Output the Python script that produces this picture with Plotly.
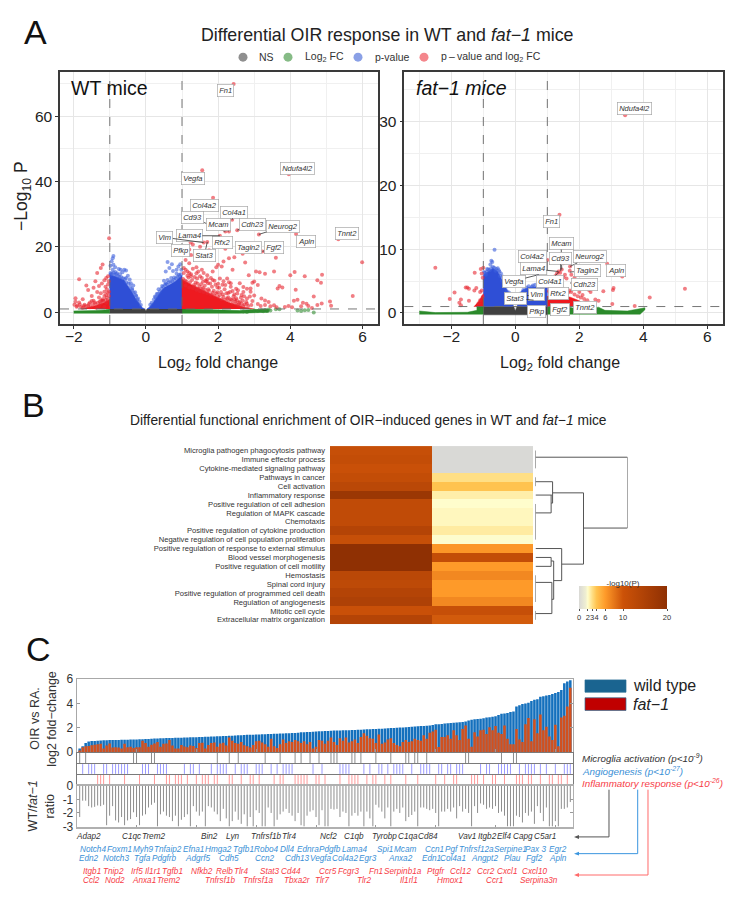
import plotly.graph_objects as go

W, H = 733, 902
FONT = "Liberation Sans"

# ---------- Panel A: volcano plots ----------
genes_wt = ["Fn1", "Ndufa4l2", "Vegfa", "Col4a2", "Col4a1", "Cd93", "Mcam", "Cdh23", "Neurog2",
            "Apln", "Tnnt2", "Tagln2", "Fgf2", "Rfx2", "Lama4", "Vim", "Pfkp", "Stat3"]
wt_gene_x = [2.43, 3.96, 1.56, 1.86, 2.39, 2.2, 2.3, 2.53, 3.13, 4.16, 5.33, 2.68, 3.23, 2.2, 2.05, 1.6, 1.24, 1.7]
wt_gene_y = [69.8, 42.2, 43.4, 35.0, 28.3, 24.7, 24.7, 25.1, 23.8, 23.9, 22.3, 17.9, 18.6, 19.4, 23.4, 21.3, 21.3, 21.5]
wt_label_x = [2.2, 4.2, 1.3, 1.62, 2.44, 1.3, 2.0, 2.95, 3.8, 4.43, 5.56, 2.84, 3.54, 2.12, 1.2, 0.52, 0.97, 1.62]
wt_label_y = [67.7, 44.0, 41.0, 32.8, 30.6, 28.9, 26.7, 26.8, 26.2, 21.5, 24.2, 19.8, 19.8, 21.2, 23.4, 22.9, 19.0, 17.4]
wt_label_line = [0, 0, 0, 0, 1, 1, 1, 1, 1, 0, 0, 0, 1, 0, 1, 1, 0, 1]

genes_fat = ["Ndufa4l2", "Fn1", "Mcam", "Col4a2", "Cd93", "Neurog2", "Lama4", "Tagln2", "Apln",
             "Vegfa", "Col4a1", "Cdh23", "Rfx2", "Vim", "Stat3", "Fgf2", "Tnnt2", "Pfkp"]
fat_gene_x = [3.43, 1.38, 1.45, 1.0, 1.42, 1.71, 1.35, 1.71, 3.34, 0.73, 1.35, 1.71, 1.04, 0.36, 0.57, 1.14, 1.87, 0.36]
fat_gene_y = [31.0, 15.4, 6.8, 8.3, 6.6, 7.3, 6.5, 6.4, 5.7, 6.0, 6.4, 4.7, 3.2, 2.7, 2.0, 1.9, 0.6, 0.6]
fat_label_x = [3.73, 1.14, 1.43, 0.54, 1.41, 2.34, 0.56, 2.24, 3.14, -0.05, 1.08, 2.15, 1.35, 0.67, 0.0, 1.4, 2.19, 0.65]
fat_label_y = [32.0, 14.3, 10.9, 8.9, 8.6, 8.8, 6.9, 6.7, 6.6, 5.0, 4.9, 4.5, 3.0, 2.9, 2.3, 0.55, 0.85, 0.25]
fat_label_line = [0, 0, 1, 1, 1, 1, 1, 1, 0, 1, 1, 1, 1, 1, 1, 0, 0, 0]

# Dense cores of each significance class, as outlines in (log2FC, -log10 P)
wt_ns_x = [-1, 1, 1, 0.03, 0, -0.03, -1]
wt_ns_y = [-0.3, -0.3, 1, 1, 0.4, 1, 1]
wt_blue_neg_x = [-1, -1, -0.85, -0.7, -0.6, -0.5, -0.4, -0.3, -0.2, -0.1, -0.03]
wt_blue_neg_y = [1, 11.5, 11, 10.2, 9.8, 8, 6.5, 4.5, 2.8, 1.4, 1]
wt_blue_pos_x = [0.03, 0.1, 0.2, 0.3, 0.4, 0.5, 0.6, 0.7, 0.8, 0.9, 1, 1]
wt_blue_pos_y = [1, 1.6, 3, 4.8, 6.3, 7.5, 8, 8.7, 9.3, 10.2, 11.3, 1]
wt_red_core_x = [1, 1, 1.25, 1.55, 1.9, 2.3, 2.7, 3.0]
wt_red_core_y = [1, 10, 8.5, 6.8, 5, 3, 1.6, 1]
wt_red_core2_x = [-1, -1, -1.15, -1.4, -1.8]
wt_red_core2_y = [1, 4, 3, 2, 1]
wt_green1_x = [-2, -1, -1, -1.15, -1.4, -2]
wt_green1_y = [-0.3, -0.3, 1, 0.7, 0.5, 0.4]
wt_green2_x = [1, 2.6, 3.4, 3.4, 3, 2.6, 1.5, 1]
wt_green2_y = [-0.3, -0.3, 0, 0.9, 0.8, 0.5, 0.9, 1]

wt_green_x = [2.7, 2.8, 2.9, 3.0, 3.1, 3.2, 3.3, 3.4, 3.45, 3.6, 3.7, 4.2, 4.3, 4.4, 4.65, 4.5, 3.35, 3.25]
wt_green_y = [0.2, 0.1, 0.4, 0.5, 0.4, 0.6, 0.7, 0.8, 0.5, 0.9, 0.9, 0.5, 0.4, 0.6, -0.1, 0.7, 0.4, 0.3]

wt_blue_x = [-0.9, -0.92, -0.95, -0.98, -0.9, -0.85, -0.75, -0.7, -0.6, -0.55, -0.92, -0.85, -0.65, -0.8, -0.5,
             -0.55, -0.42, -0.35, -0.38, -0.3, -0.27, -0.22, -0.72, -0.98, -0.45,
             0.6, 0.72, 0.95, 0.9, 0.85, 0.65, 0.98, 0.55, 0.75, 0.85, 0.92, 0.5, 0.55, 0.45, 0.35, 0.3, 0.25, 0.7, 0.6, 0.78,
             -0.98, -0.95, -0.9, -0.88, -0.82, -0.78, -0.74, -0.68, -0.64, -0.58, -0.54, -0.48, -0.44, -0.38, -0.34, -0.28, -0.24, -0.18, -0.14,
             0.12, 0.16, 0.22, 0.27, 0.33, 0.38, 0.43, 0.48, 0.53, 0.58, 0.63, 0.68, 0.73, 0.78, 0.83, 0.88, 0.93, 0.97]
wt_blue_y = [17.2, 16.5, 15.6, 14.2, 14.5, 13.8, 13.2, 13, 13, 12.8, 13, 12.3, 12.2, 11.9, 11.2,
             10.5, 8.9, 8.2, 7.2, 6.1, 5, 4.2, 11.6, 11.5, 10,
             15.4, 14.7, 14.7, 14, 13, 13.5, 13, 12.5, 12.6, 11.8, 11.5, 9.6, 8.8, 8, 7, 5.6, 4.8, 10.5, 9.9, 10.6,
             12, 11.8, 12.1, 11.4, 11.6, 11, 10.8, 10.7, 10.4, 10.2, 9.2, 8.8, 7.8, 6.8, 6, 5.2, 3.9, 3.2, 2.2,
             2.3, 2.9, 3.9, 4.6, 5.6, 6.3, 7.2, 7.8, 8.4, 8.6, 9.1, 9.3, 9.5, 9.9, 10.4, 10.8, 11, 11.6]

wt_red_x = [1.05, 1.1, 1.15, 1.05, 1.2, 1.3, 1.4, 1.45, 1.55, 1.6, 1.25, 1.35, 1.5, 1.7, 1.85, 1.95, 1.2, 1.1, 1.25, 1.35,
            1.5, 1.6, 1.75, 1.15, 1.2, 1.3, 1.5, 1.75, 2.0, 2.15, 2.3, 2.45, 2.1, 2.4, 2.75, 3.05, 3.15, 3.3, 3.55, 3.6,
            3.7, 3.78, 3.65, 4.0, 4.12, 4.4, 4.75, 4.88, 4.85, 4.15, 4.65, 5.73, 5.99, 5.1, 5.13, 4.87, 4.75, 4.45, 4.35, 4.2,
            4.1, 3.85, 3.95, 4.05, 4.3, 4.5, 4.6, 3.4, 3.3, 3.2, 3.0, 2.9, 2.8, 3.1, 3.0, 2.85, 2.95, 2.6, 2.7, 2.55,
            2.65, 2.8, 2.95, 3.1, 3.3, 3.45, 3.55, 2.8, 2.6, 2.5, 2.45, 2.4, 2.35, 2.3, 2.25, 2.15, 2.05, 1.9, 1.8, 1.65,
            2.12, 1.98, 1.72, 1.58, 1.42, 2.28, 2.52, 2.72, 2.92, 3.18, 3.62,
            1.03, 1.08, 1.12, 1.18, 1.22, 1.28, 1.33, 1.38, 1.43, 1.48, 1.53, 1.58, 1.63, 1.68, 1.73, 1.78, 1.83, 1.88, 1.93, 1.98,
            2.03, 2.08, 2.13, 2.18, 2.23, 2.28, 2.33, 2.38, 2.43, 2.48, 2.53, 2.58, 2.63, 2.68, 2.73, 2.78, 2.83, 2.88,
            1.1, 1.2, 1.3, 1.4, 1.5, 1.6, 1.7, 1.8, 1.9, 2.0, 2.1, 2.2, 2.3, 2.4, 2.5, 2.6, 2.7,
            1.35, 1.45, 1.55, 1.65, 1.75, 1.85, 1.95, 2.05, 2.15, 2.25, 2.35, 2.45, 2.55, 2.65,
            1.15, 1.25, 1.4, 1.55, 1.7, 1.85, 2.0, 2.2, 2.35, 2.5, 2.7, 2.9,
            -1.02, -1.2, -1.25, -1.05, -1.1, -1.15, -1.22, -1.3, -1.05, -1.08, -1.15, -1.25, -1.35, -1.1, -1.3, -1.45, -1.5,
            -1.55, -1.6, -1.45, -1.4, -1.7, -1.75, -1.8, -1.85, -1.85, -1.9, -1.95, -1.95, -1.98, -1.92, -1.65, -1.4, -1.35,
            -1.5, -1.25, -1.2, -1.6, -1.3, -1.15, -1.1, -1.75, -1.55, -1.38, -1.2, -1.05, -1.15, -1.28,
            -1.02, -1.08, -1.12, -1.18, -1.24, -1.33, -1.42, -1.48, -1.58, -1.66, -1.72, -1.83, -1.02, -1.03, -1.06, -1.12]
wt_red_y = [13.5, 13, 12.5, 12, 12, 13.3, 13.8, 12.5, 13, 12, 11, 10.8, 11, 11.3, 12.5, 13.8, 15, 16, 17.5, 17.2,
            16.5, 16.2, 16.3, 17.8, 19.2, 20.7, 20, 19, 14.5, 15.5, 16.5, 16.8, 14, 13, 15.2, 12.5, 12.2, 11.8, 12.5, 16.7,
            8, 7.6, 7.3, 11.3, 12.3, 11, 9.8, 11.5, 9, 6.9, 4.8, 5, 15.3, 3.3, 2, 2.7, 2.2, 2.6, 2.9, 3.8,
            3.5, 1.6, 1.9, 1.5, 1.8, 1.9, 1.3, 3.1, 3.6, 4.2, 5.1, 6.3, 7.2, 8.3, 9.4, 11.3, 9, 8.9, 7.7, 6.7,
            5.3, 4.2, 3.4, 2.5, 2.2, 1.8, 2.1, 2.6, 3.1, 4.3, 5.4, 6.5, 7.8, 9.2, 10.3, 9.5, 10.3, 9.6, 10.5, 9.6,
            8.4, 7.6, 8.9, 9.3, 10.3, 5.9, 3.7, 4.9, 2.2, 1.9, 1.5,
            10.2, 9.7, 9.4, 10.6, 9.2, 9.9, 8.3, 9.1, 8.8, 7.9, 8.6, 7.4, 8.1, 9.4, 7.0, 8.8, 7.8, 6.6, 8.4, 6.1,
            7.5, 6.2, 5.4, 7.0, 5.8, 4.6, 6.2, 3.8, 4.9, 3.3, 5.7, 2.9, 4.4, 3.6, 2.4, 3.1, 1.9, 4.8,
            8.2, 7.6, 7.4, 6.9, 6.4, 6.2, 5.9, 5.4, 5.1, 4.7, 4.0, 3.8, 3.5, 2.8, 2.5, 2.0, 1.8,
            7.9, 7.2, 7.1, 6.9, 6.6, 6.0, 5.7, 5.3, 4.7, 4.2, 4.0, 3.9, 2.2, 2.6,
            11.2, 11.6, 11.9, 10.5, 10.1, 9.9, 8.7, 8.3, 8.9, 7.2, 6.2, 7.3,
            22.6, 14.6, 13.5, 11, 10.5, 9.8, 8.8, 8, 8.5, 7, 6.3, 5.8, 6.2, 5.3, 4.5, 3.5, 5,
            3, 6.8, 7.5, 2.5, 2.3, 4, 1.6, 10.1, 3, 2, 4.3, 3.2, 2.3, 1.7, 8.2, 9.5, 12,
            3.4, 2.7, 4, 2, 1.9, 1.7, 2.9, 1.4, 1.5, 1.4, 3.5, 3.7, 5, 3.2,
            5, 4.4, 3.8, 3.5, 3.6, 2.9, 3, 2.2, 2.5, 1.8, 1.9, 2.4, 6.3, 9.5, 6.0, 7.8]

fat_ns_x = [-1, 1, 1, 0.05, 0, -0.05, -1]
fat_ns_y = [-0.3, -0.3, 1, 1, 0.3, 1, 1]
fat_blue_neg_x = [-1, -1, -0.85, -0.7, -0.55, -0.45, -0.35, -0.25, -0.15, -0.08, -0.05]
fat_blue_neg_y = [1, 6, 6.5, 7, 6.5, 5.5, 4.5, 3.5, 2.2, 1.2, 1]
fat_blue_pos_x = [0.05, 0.1, 0.2, 0.4, 0.7, 1, 1]
fat_blue_pos_y = [1, 1.8, 3.5, 4, 4.2, 4.3, 1]
fat_red_core_x = [1, 1, 1.3, 1.7, 2, 2.25]
fat_red_core_y = [1, 2.6, 2.7, 2.5, 1.9, 1]
fat_red_core2_x = [-1.3, -1, -1, -1.15]
fat_red_core2_y = [1, 1, 3, 1.8]
fat_green1_x = [-3, -2.5, -1.5, -1.2, -1.2, -1, -1, -3]
fat_green1_y = [0.3, 0.05, 0.1, 0.4, 1, 1, -0.2, -0.2]
fat_green2_x = [1, 3.9, 4.05, 4.05, 3.5, 2.8, 2.6, 2, 1.7, 1]
fat_green2_y = [-0.2, -0.2, 0.5, 0.8, 0.3, 0.4, 0.9, 0.5, 0.9, 1]

fat_blue_x = [-0.65, -0.75, -0.72, -0.78, -0.7, -0.85, -0.6, -0.5, -0.45, -0.4, -0.55, -0.95, -0.9, -0.3, -0.25, -0.2,
              0.7, 0.55, 0.45, 0.3, 0.85, 0.95, 0.75, 0.6,
              -0.98, -0.92, -0.88, -0.8, -0.76, -0.66, -0.62, -0.52, -0.48, -0.42, -0.37, -0.32, -0.27, -0.22, -0.17,
              0.12, 0.18, 0.25, 0.35, 0.42, 0.52, 0.62, 0.72, 0.82, 0.92, 0.98]
fat_blue_y = [9.9, 8.2, 8, 7.6, 7.2, 6.8, 6.9, 6.5, 6.2, 5.7, 7, 6.3, 6.4, 4.8, 4.2, 3.2,
              5.9, 4.3, 3.8, 3.5, 4.9, 5.2, 4.5, 3.7,
              6.4, 6, 6.9, 6.7, 7, 7.1, 6.6, 6.7, 5.8, 5.1, 4.8, 4.1, 3.4, 2.9, 2.3,
              2.1, 3.1, 3.6, 4, 4.2, 4.1, 4.4, 4.3, 4.6, 4.4, 4.6]
fat_red_x = [1.38, 1.0, 1.45, 1.5, 1.71, 1.35, 1.25, 1.3, 1.4, 1.55, 1.7, 1.75, 1.85, 1.9, 1.6, 1.5, 1.8, 1.05, 1.1, 1.2,
             1.4, 1.5, 1.7, 1.95, 2.1, 2.3, 2.35, 2.1, 2.0, 2.6, 2.5, 2.25, 2.45, 2.87, 3.34, 3.07, 3.05, 2.75, 3.03, 3.73,
             4.2, 5.3, 3.43,
             1.05, 1.15, 1.25, 1.35, 1.45, 1.55, 1.65, 1.75, 1.85, 1.95, 2.05, 2.15, 2.3, 2.2, 1.1, 1.3,
             -2.5, -2.05, -1.9, -1.75, -1.7, -1.7, -1.55, -1.5, -1.45, -1.45, -1.28, -1.27, -1.22, -1.15,
             -1.1, -1.05, -1.08, -1.0, -1.02, -1.05, -1.1, -1.02]
fat_red_y = [15.4, 8.3, 6.8, 7.8, 7.3, 6.5, 5.8, 6.2, 6.3, 6, 6.6, 6, 5.5, 5, 5.4, 5.6, 4.7, 4.1, 4, 4.2,
             4.1, 3.7, 3.5, 4.2, 4.3, 3.6, 3.3, 2.8, 3.3, 1.9, 2.1, 2, 1.3, 7.7, 5.7, 3.9, 3.6, 3.4, 1.4, 1.1,
             2.4, 3.8, 31,
             3.4, 3.7, 3.8, 3.5, 3.4, 3.3, 3.2, 3.3, 2.9, 2.6, 2.4, 2.2, 1.5, 1.6, 3.1, 2.9,
             7.1, 2.2, 3.2, 1.6, 1.2, 2.1, 4, 4, 3.8, 1.9, 3.5, 6.3, 3.9, 1.5,
             2, 6.2, 6.9, 7.1, 5.5, 3.5, 3.3, 2.5]

# ---------- Panel B: enrichment heatmap ----------
pathways = ["Microglia pathogen phagocytosis pathway", "Immune effector process",
            "Cytokine-mediated signaling pathway", "Pathways in cancer", "Cell activation",
            "Inflammatory response", "Positive regulation of cell adhesion", "Regulation of MAPK cascade",
            "Chemotaxis", "Positive regulation of cytokine production",
            "Negative regulation of cell population proliferation",
            "Positive regulation of response to external stimulus", "Blood vessel morphogenesis",
            "Positive regulation of cell motility", "Hemostasis", "Spinal cord injury",
            "Positive regulation of programmed cell death", "Regulation of angiogenesis",
            "Mitotic cell cycle", "Extracellular matrix organization"]
logp_wt = [11, 11.5, 10.5, 11.5, 13, 18, 12, 12, 12, 14, 11, 20, 20, 20, 13, 12.5, 14, 15, 10.5, 14]
logp_fat = [0, 0, 0, 3.0, 4.0, 2.5, 2.0, 2.2, 2.2, 2.6, 1.95, 6.2, 11.5, 6, 7, 6, 6, 7, 11, 9.5]
heat_columns = ["WT", "fat-1"]
colorbar_ticks = [0, 2, 3, 4, 6, 10, 20]

# Dendrogram segments: merge height against row index, None breaks a segment
dendro_height = [0, 0, None, 0, 253, None, 253, 253, None, 253, 132, None, 132, 132, None, 132, 47, None,
                 47, 47, None, 47, 0, None, 0, 0, None, 0, 45, None, 0, 43, None, 43, 43, None, 43, 47, None,
                 0, 0, None, 132, 72, None, 72, 72, None, 72, 0, None, 72, 50, None, 50, 50, None,
                 50, 43, None, 43, 43, None, 43, 0, None, 43, 0, None, 50, 45, None, 45, 45, None,
                 45, 0, None, 45, 0, None, 0, 0, None, 0, 0]
dendro_row = [0, 2, None, 0.75, 0.75, None, 0.75, 8.7, None, 8.7, 8.7, None, 4.75, 12.75, None, 4.75, 4.75, None,
              3.5, 5.9, None, 3.5, 3.5, None, 3, 4, None, 5, 5, None, 7, 7, None, 5, 7, None, 5.9, 5.9, None,
              6, 10, None, 12.75, 12.75, None, 11, 14.6, None, 11, 11, None, 14.6, 14.6, None, 12.4, 16.7, None,
              12.4, 12.4, None, 12, 13, None, 12, 12, None, 13, 13, None, 16.7, 16.7, None, 14.8, 18.3, None,
              14.8, 14.8, None, 18.3, 18.3, None, 14, 17, None, 18, 19]

# ---------- Panel C: ranked fold changes ----------
fc_wild = [.3, .5, .75, .88, .92, .93, .95, .97, .98, .98,
           1.0, 1.0, 1.0, 1.01, 1.02, 1.03, 1.03, 1.04, 1.05, 1.05,
           1.06, 1.07, 1.08, 1.09, 1.10, 1.12, 1.13, 1.14, 1.15, 1.16,
           1.16, 1.17, 1.18, 1.18, 1.19, 1.2, 1.21, 1.22, 1.23, 1.24,
           1.25, 1.26, 1.27, 1.28, 1.29, 1.3, 1.31, 1.32, 1.33, 1.34,
           1.35, 1.36, 1.38, 1.39, 1.40, 1.42, 1.43, 1.44, 1.44, 1.45,
           1.46, 1.47, 1.48, 1.50, 1.50, 1.51, 1.52, 1.53, 1.54, 1.55,
           1.56, 1.57, 1.58, 1.60, 1.65, 1.65, 1.66, 1.67, 1.68, 1.70,
           1.72, 1.73, 1.74, 1.75, 1.76, 1.78, 1.78, 1.79, 1.80, 1.80,
           1.81, 1.82, 1.83, 1.84, 1.85, 1.86, 1.88, 1.89, 1.90, 1.91,
           1.92, 1.93, 1.95, 1.96, 1.98, 1.99, 2.0, 2.02, 2.03, 2.05,
           2.08, 2.10, 2.12, 2.13, 2.15, 2.16, 2.18, 2.20, 2.24, 2.30,
           2.30, 2.32, 2.35, 2.38, 2.40, 2.42, 2.44, 2.46, 2.48, 2.52,
           2.60, 2.66, 2.70, 2.72, 2.75, 2.78, 2.85, 2.88, 2.92, 2.96,
           3.05, 3.15, 3.18, 3.22, 3.30, 3.35, 3.75, 3.85, 3.95, 4.0,
           4.05, 4.2, 4.3, 4.35, 4.55, 4.6, 4.65, 4.7, 4.78, 4.85,
           4.95, 5.1, 5.65, 5.8, 5.9]
fc_fat = [.15, .42, .50, .52, .58, .62, .65, .70, .30, .55,
          .72, .38, .42, .38, .30, .70, .40, .45, .35, .42,
          .42, .95, .75, .45, .62, .72, .85, .45, .70, .72,
          1.0, .55, .30, .30, .60, .48, .42, .55, .52, .35,
          .75, .78, .30, .60, .75, .80, .45, .72, .78, .55,
          1.2, .95, .75, .70, .85, .58, .50, .38, .60, .90,
          .95, .80, .65, .45, 1.1, .50, .35, .65, 1.05, .75,
          .90, .85, 1.0, .90, .75, .90, .65, .85, .30, .45,
          1.0, .95, .70, .95, 1.2, .85, .60, 1.15, .95, 1.2,
          .80, .90, 1.05, .75, 1.25, 1.55, 1.35, 1.15, 1.1, .75,
          1.45, .70, .80, 1.05, 1.15, .75, .6, .5, .85, 1.0,
          .85, .9, 1.1, 1.0, .95, 1.4, 1.1, 1.6, 1.7, 1.85,
          .43, 1.25, 1.25, 1.4, 1.1, 1.8, 1.4, 1.0, 1.9, 2.2,
          1.1, .45, 1.65, 1.3, 1.8, 1.85, 1.5, 2.05, 1.8, 2.15,
          1.6, 1.5, 2.2, 1.1, .65, .65, 1.9, 1.05, .85, 2.3,
          2.8, .9, 2.7, 1.55, 3.1, 1.8, 2.1, 1.3, 1.0, 2.25,
          .5, 2.85, 3.0, 3.75, 5.3]
ratio = [-2.3, -1.1, -1.1, -1.5, -1.6, -1.55, -1.45, -1.5, -1.4, -2.9, -2.2, -1.5, -2.55, -2.7, -2.3, -2.9, -2.55, -2.45, -1.95, -2.3,
         -2.9, -2.2, -2.1, -1.6, -1.4, -1.25, -3, -2.1, -1.9, -2.2, -2.3, -2.6, -2.2, -3, -2.5, -2.3, -2.1, -3, -1.5, -1.9,
         -2.2, -1.9, -3, -1.5, -1.6, -1.9, -2.1, -2.6, -1.7, -2.4, -3, -2.6, -1.9, -2.5, -2.8, -2.1, -3, -2.3, -3, -1.8,
         -2, -3, -3, -1.6, -2, -3, -2.5, -2.1, -1.9, -1.7, -2.0, -2.2, -2.6, -2.0, -2.9, -3, -2.2, -1.9, -1.8, -2.3,
         -2.9, -1.8, -3, -3, -1.7, -1.75, -1.7, -2.3, -1.9, -2.0, -3, -2.2, -2, -2.2, -1.9, -3, -1.9, -2.4, -3, -1.4,
         -1.6, -1.9, -2.4, -1.6, -3, -1.9, -1.7, -2, -1.6,
         -2.6, -2.3, -2.15, -1.9, -3, -1.6, -1.6, -1.7, -1.8, -1.7, -2, -3, -1.9, -1.9, -1.7, -1.9, -1.6, -2.4, -1.5, -1.9,
         -1.7, -2, -3, -1.5, -2, -1.3, -1.4, -1.7, -1.6, -1.7, -1.5, -2, -1.9, -2.2, -3, -3, -3, -2.2, -2.3, -2.7,
         -2, -2.2, -1.9, -2.8, -1.5, -2, -2.6, -1.6, -3, -3, -2.6, -3, -1.7, -1.7, -1.6, -1.2]
rank = list(range(1, len(fc_wild) + 1))
rank_ticks = [20, 40, 60, 80, 100, 120, 140, 160]

microglia_ranks = [1, 3, 19, 20, 25, 26, 47, 51, 54, 63, 68, 73, 75, 78, 81, 85, 86, 87, 92, 93, 95, 100, 105,
                   110, 111, 113, 114, 117, 130, 131, 142, 146, 147]
angiogenesis_ranks = [2, 4, 5, 6, 9, 10, 12, 13, 14, 15, 16, 17, 22, 23, 24, 27, 28, 29, 30, 36, 38, 39, 41, 45, 47, 48,
                      49, 50, 53, 55, 56, 57, 60, 61, 62, 65, 67, 69, 70, 71, 72, 79, 82, 88, 89, 90, 91, 96, 98, 101,
                      102, 104, 106, 107, 108, 109, 112, 115, 116, 117, 118, 121, 122, 124, 125, 127, 128, 129, 135,
                      137, 138, 141, 142, 143, 144, 145, 148, 150, 151, 152, 153, 155, 157, 160, 163, 164, 165]
inflammatory_ranks = [7, 8, 9, 11, 16, 21, 26, 30, 31, 33, 34, 35, 37, 40, 42, 43, 44, 46, 47, 51, 52, 55, 58, 59, 61,
                      66, 68, 69, 73, 74, 75, 76, 77, 80, 81, 83, 88, 91, 92, 93, 94, 97, 99, 100, 103, 105, 110, 114,
                      120, 123, 126, 127, 132, 133, 134, 136, 139, 140, 143, 147, 148, 149, 151, 152, 155, 158, 159,
                      161, 162, 164]

microglia_genes = ["Adap2", "C1qc", "Trem2", "Bin2", "Lyn", "Tnfrsf1b", "Tlr4", "Ncf2", "C1qb", "Tyrobp", "C1qa",
                   "Cd84", "Vav1", "Itgb2", "Elf4", "Capg", "C5ar1"]
angio_genes_1 = ["Notch4", "Foxm1", "Myh9", "Tnfaip2", "Efna1", "Hmga2", "Tgfb1", "Robo4", "Dll4", "Ednra", "Pdgfb",
                 "Lama4", "Spi1", "Mcam", "Ccn1", "Pgf", "Tnfrsf12a", "Serpine1", "Pax 3", "Egr2"]
angio_genes_2 = ["Edn2", "Notch3", "Tgfa", "Pdgfrb", "Adgrf5", "Cdh5", "Ccn2", "Cdh13", "Vegfa", "Col4a2", "Egr3",
                 "Anxa2", "Edn1", "Col4a1", "Angpt2", "Plau", "Fgf2", "Apln"]
inflam_genes_1 = ["Itgb1", "Tnip2", "Irf5", "Il1r1", "Tgfb1", "Nfkb2", "Relb", "Tlr4", "Stat3", "Cd44", "Ccr5", "Fcgr3",
                  "Fn1", "Serpinb1a", "Ptgfr", "Ccl12", "Ccr2", "Cxcl1", "Cxcl10"]
inflam_genes_2 = ["Ccl2", "Nod2", "Anxa1", "Trem2", "Tnfrsf1b", "Tnfrsf1a", "Tbxa2r", "Tlr7", "Tlr2", "Il1rl1", "Hmox1",
                  "Ccr1", "Serpina3n"]


def px(x):
    return x / W


def py(y):
    return 1 - y / H


def dom_x(a, b):
    return [px(a), px(b)]


def dom_y(top, bottom):
    return [py(bottom), py(top)]


fig = go.Figure()
annotations = []
shapes = []


def note(x, y, text, size=10, color="#222222", anchor="center", angle=0):
    annotations.append(dict(x=px(x), y=py(y), xref="paper", yref="paper", text=text, showarrow=False,
                            xanchor=anchor, yanchor="middle", textangle=angle,
                            font=dict(family=FONT, size=size, color=color)))


def area(x, y, color, xa, ya):
    fig.add_trace(go.Scatter(x=x, y=y, mode="lines", fill="toself", fillcolor=color, xaxis=xa, yaxis=ya,
                             line=dict(width=0.5, color=color), showlegend=False, hoverinfo="skip"))


def dots(x, y, color, xa, ya, size=4.0):
    fig.add_trace(go.Scatter(x=x, y=y, mode="markers", xaxis=xa, yaxis=ya, showlegend=False,
                             marker=dict(size=size, color=color, line=dict(width=0))))


def stems(x, values, color, xa, ya):
    # Thin vertical lines from zero to each value, one per ranked gene
    down = [max(-v, 0) for v in values]
    up = [max(v, 0) for v in values]
    fig.add_trace(go.Scatter(x=x, y=[0] * len(x), mode="markers", marker=dict(size=0.1, opacity=0),
                             error_y=dict(type="data", symmetric=False, array=up, arrayminus=down,
                                          color=color, thickness=1, width=0),
                             xaxis=xa, yaxis=ya, showlegend=False, hoverinfo="skip"))


C_NS, C_GREEN, C_BLUE, C_RED = "#404040", "#2b8a2b", "#2f4fd6", "#ee1a20"
DOT_GREEN, DOT_BLUE, DOT_RED = "rgba(50,140,50,0.6)", "rgba(60,95,220,0.6)", "rgba(232,40,50,0.6)"

# Left volcano
for xs, ys, c in [(wt_green1_x, wt_green1_y, C_GREEN), (wt_green2_x, wt_green2_y, C_GREEN), (wt_ns_x, wt_ns_y, C_NS),
                  (wt_blue_neg_x, wt_blue_neg_y, C_BLUE), (wt_blue_pos_x, wt_blue_pos_y, C_BLUE),
                  (wt_red_core_x, wt_red_core_y, C_RED), (wt_red_core2_x, wt_red_core2_y, C_RED)]:
    area(xs, ys, c, "x", "y")
dots(wt_green_x, wt_green_y, DOT_GREEN, "x", "y")
dots(wt_blue_x, wt_blue_y, DOT_BLUE, "x", "y")
dots(wt_red_x, wt_red_y, DOT_RED, "x", "y")
dots(wt_gene_x, wt_gene_y, DOT_RED, "x", "y")

# Right volcano
for xs, ys, c in [(fat_green1_x, fat_green1_y, C_GREEN), (fat_green2_x, fat_green2_y, C_GREEN),
                  (fat_ns_x, fat_ns_y, C_NS), (fat_blue_neg_x, fat_blue_neg_y, C_BLUE),
                  (fat_blue_pos_x, fat_blue_pos_y, C_BLUE), (fat_red_core_x, fat_red_core_y, C_RED),
                  (fat_red_core2_x, fat_red_core2_y, C_RED)]:
    area(xs, ys, c, "x2", "y2")
dots(fat_blue_x, fat_blue_y, DOT_BLUE, "x2", "y2")
dots(fat_red_x, fat_red_y, DOT_RED, "x2", "y2")


def gene_labels(names, gx, gy, lx, ly, line, xref, yref):
    for n, a, b, c, d, show in zip(names, gx, gy, lx, ly, line):
        base = dict(text="<i>%s</i>" % n, bgcolor="white", bordercolor="#a8a8a8", borderwidth=0.7, borderpad=1.5,
                    font=dict(family=FONT, size=7.5, color="#333333"), xref=xref, yref=yref)
        if show:
            annotations.append(dict(base, x=a, y=b, ax=c, ay=d, axref=xref, ayref=yref, showarrow=True,
                                    arrowhead=0, arrowwidth=0.8, arrowcolor="#333333", standoff=0))
        else:
            annotations.append(dict(base, x=c, y=d, showarrow=False))


gene_labels(genes_wt, wt_gene_x, wt_gene_y, wt_label_x, wt_label_y, wt_label_line, "x", "y")
gene_labels(genes_fat, fat_gene_x, fat_gene_y, fat_label_x, fat_label_y, fat_label_line, "x2", "y2")

for xa, ya in [("x", "y"), ("x2", "y2")]:
    for v in (-1, 1):
        shapes.append(dict(type="line", xref=xa, yref=ya + " domain", x0=v, x1=v, y0=0, y1=1,
                           line=dict(color="#666666", width=0.9, dash="dash")))
    shapes.append(dict(type="line", xref=xa + " domain", yref=ya, x0=0, x1=1, y0=1, y1=1,
                       line=dict(color="#666666", width=0.9, dash="dash")))

# Heatmap with its colour key
heat_scale = [[0, "#d9d9d6"], [0.075, "#efeed2"], [0.1, "#fffdcc"], [0.15, "#ffdf85"], [0.2, "#ffc34f"],
              [0.3, "#fe9a29"], [0.5, "#cc5208"], [1, "#8f3003"]]
fig.add_trace(go.Heatmap(z=[[a, b] for a, b in zip(logp_wt, logp_fat)], x=heat_columns, y=pathways,
                         xaxis="x3", yaxis="y3", zmin=0, zmax=20, colorscale=heat_scale, xgap=0, ygap=0,
                         colorbar=dict(orientation="h", x=px(579), xanchor="left", y=py(625), yanchor="bottom",
                                       len=88, lenmode="pixels", thickness=23, thicknessmode="pixels",
                                       xpad=0, ypad=0, outlinewidth=0, tickmode="array", tickvals=colorbar_ticks,
                                       ticktext=[str(t) for t in colorbar_ticks], tickangle=0, ticks="outside",
                                       ticklen=2, tickcolor="#555555", tickwidth=0.7,
                                       tickfont=dict(family=FONT, size=7.5, color="#333333"),
                                       title=dict(text="-log10(P)", side="top",
                                                  font=dict(family=FONT, size=8, color="#333333")))))
fig.add_trace(go.Scatter(x=dendro_height, y=dendro_row, mode="lines", xaxis="x4", yaxis="y4", showlegend=False,
                         connectgaps=False, line=dict(color="#555555", width=1), hoverinfo="skip"))

# Fold-change bars, membership strips and ratio stems
fig.add_trace(go.Bar(x=rank, y=fc_wild, width=0.85, marker=dict(color="#1470bd", line=dict(width=0)),
                     xaxis="x5", yaxis="y5", showlegend=False))
fig.add_trace(go.Bar(x=rank, y=fc_fat, width=0.85, marker=dict(color="#d4501c", line=dict(width=0)),
                     xaxis="x5", yaxis="y5", showlegend=False))
for ranks, color, xa, ya in [(microglia_ranks, "#8c8c8c", "x6", "y6"), (angiogenesis_ranks, "#9a9aff", "x7", "y7"),
                             (inflammatory_ranks, "#ff9a9a", "x8", "y8")]:
    stems(ranks, [1] * len(ranks), color, xa, ya)
stems(rank, ratio, "#8e8e8e", "x9", "y9")

# Axes
tick_font = dict(family=FONT, size=15.5, color="#222222")


def volcano_axis(domain, rng, major, minor, anchor, standoff=0):
    return dict(domain=domain, range=rng, anchor=anchor, tickvals=major, ticks="outside", ticklen=3, tickcolor="#333333",
                tickfont=tick_font, ticklabelstandoff=standoff, showgrid=True, gridcolor="#e6e6e6", gridwidth=1,
                zeroline=False, showline=True, linecolor="#3a3a3a", linewidth=1.5, mirror=True,
                minor=dict(tickvals=minor, showgrid=True, gridcolor="#f0f0f0", gridwidth=0.7, ticks=""))


rank_range = [0, 166]
c_font = dict(family=FONT, size=12, color="#333333")


def strip_axes(top, bottom, anchor):
    common = dict(showticklabels=False, ticks="", showgrid=False, zeroline=False, showline=True,
                  linecolor="#7a7a7a", linewidth=1, mirror=True)
    return (dict(common, domain=dom_x(76.7, 573.3), range=rank_range, anchor=anchor[1]),
            dict(common, domain=dom_y(top, bottom), range=[0, 1], anchor=anchor[0]))


x6, y6 = strip_axes(757.5, 768, ("x6", "y6"))
x7, y7 = strip_axes(769, 779, ("x7", "y7"))
x8, y8 = strip_axes(780, 790, ("x8", "y8"))

layout_axes = dict(
    xaxis=volcano_axis(dom_x(60, 378), [-2.38, 6.43], [-2, 0, 2, 4, 6], [-1, 1, 3, 5], "y", -5),
    yaxis=volcano_axis(dom_y(66, 322), [-3.6, 73.5], [0, 20, 40, 60], [10, 30, 50, 70], "x"),
    xaxis2=volcano_axis(dom_x(404.3, 722.7), [-3.47, 6.48], [-2, 0, 2, 4, 6], [-3, -1, 1, 3, 5], "y2", -5),
    yaxis2=volcano_axis(dom_y(66, 322), [-1.74, 37.8], [0, 10, 20, 30], [5, 15, 25, 35], "x2"),
    xaxis3=dict(domain=dom_x(330, 533), anchor="y3", showticklabels=False, ticks="", showgrid=False, zeroline=False),
    yaxis3=dict(domain=dom_y(446, 627), anchor="x3", autorange="reversed", ticks="", showgrid=False, zeroline=False,
                ticklabelstandoff=4, tickfont=dict(family=FONT, size=7.6, color="#333333"), tickmode="array",
                tickvals=pathways, ticktext=pathways),
    xaxis4=dict(domain=dom_x(535.5, 627.5), range=[0, 253], anchor="y4", visible=False),
    yaxis4=dict(domain=dom_y(446, 627), range=[19.5, -0.5], anchor="x4", visible=False),
    xaxis5=dict(domain=dom_x(76.7, 573.3), range=rank_range, anchor="y5", showticklabels=False, tickvals=[],
                minor=dict(tickvals=rank_ticks, ticks="inside", ticklen=3, tickcolor="#9a9a9a"),
                showgrid=False, zeroline=False, showline=True, linecolor="#a8a8a8", linewidth=1, mirror=True),
    yaxis5=dict(domain=dom_y(682.7, 757), range=[0, 6], anchor="x5", tickvals=[0, 2, 4, 6], ticks="inside", ticklen=3,
                tickcolor="#9a9a9a", tickfont=c_font, showgrid=False, zeroline=False, showline=True,
                linecolor="#a8a8a8", linewidth=1, mirror="allticks"),
    xaxis6=x6, yaxis6=y6, xaxis7=x7, yaxis7=y7, xaxis8=x8, yaxis8=y8,
    xaxis9=dict(domain=dom_x(76.7, 573.3), range=rank_range, anchor="y9", showticklabels=False, tickvals=[],
                minor=dict(tickvals=rank_ticks, ticks="inside", ticklen=2, tickcolor="#9a9a9a"),
                showgrid=False, zeroline=False, showline=True, linecolor="#b0b0b0", linewidth=1.5, mirror=True),
    yaxis9=dict(domain=dom_y(791, 832.5), range=[-3, 0], anchor="x9", tickvals=[0, -1, -2, -3],
                ticktext=["0", "-1", "-2", "-3"], ticks="inside", ticklen=3, tickcolor="#9a9a9a", tickfont=c_font,
                showgrid=False, zeroline=False, showline=True, linecolor="#b0b0b0", linewidth=1, mirror="allticks"),
)

# Panel letters and titles
note(35, 25, "A", 34, "#111111")
note(33, 404, "B", 34, "#111111")
note(38, 652, "C", 34, "#111111")
note(387, 28, "Differential OIR response in WT and <i>fat\u22121</i> mice", 17.8)
note(368, 420, "Differential functional enrichment of OIR\u2212induced genes in WT and <i>fat\u22121</i> mice", 13.8)

# Volcano legend
legend_items = [(243, "#8f8f8f", 257, "NS"), (288, "#86bb86", 303, "Log<sub>2</sub> FC"),
                (358, "#8aa0e6", 373, "p-value"), (424, "#f4868c", 439, "p\u2009\u2013\u2009value and log<sub>2</sub> FC")]
for cx, col, tx, label in legend_items:
    shapes.append(dict(type="circle", xref="paper", yref="paper", x0=px(cx - 4.5), x1=px(cx + 4.5),
                       y0=py(51 + 4.5), y1=py(51 - 4.5), fillcolor=col, line=dict(width=0)))
    note(tx, 51, label, 10.5, "#333333", "left")

note(69, 82, "WT mice", 19.5, "#111111", "left")
note(414, 82, "<i>fat\u22121 mice</i>", 19.5, "#111111", "left")
note(22, 192, "\u2212Log<sub>10</sub> P", 17.5, "#222222", angle=-90)
note(218, 362, "Log<sub>2</sub> fold change", 16, "#222222")
note(560, 362, "Log<sub>2</sub> fold change", 16, "#222222")

# Panel C side titles and legend
note(35, 723, "OIR vs RA.", 12.5, "#333333", angle=-90)
note(52, 723, "log2 fold\u2212change", 12.5, "#333333", angle=-90)
note(33, 812, "WT/<i>fat\u22121</i>", 12.5, "#333333", angle=-90)
note(50, 812, "ratio", 12.5, "#333333", angle=-90)

shapes.append(dict(type="rect", xref="paper", yref="paper", x0=px(585), x1=px(626), y0=py(696), y1=py(683.5),
                   fillcolor="#1a6490", line=dict(color="#2a6f95", width=0.7)))
shapes.append(dict(type="rect", xref="paper", yref="paper", x0=px(585), x1=px(626), y0=py(714.5), y1=py(701.7),
                   fillcolor="#c00000", line=dict(color="#2a6f95", width=0.7)))
note(631, 689, "wild type", 16, "#222222", "left")
note(631, 708, "<i>fat\u22121</i>", 16, "#222222", "left")

BLUE_T, RED_T = "#3a90d6", "#f73c46"
note(579.5, 763, "<i>Microglia activation (p&lt;10<sup>-9</sup>)</i>", 9.8, "#333333", "left")
note(579.5, 776, "<i>Angiogenesis (p&lt;10<sup>-27</sup>)</i>", 9.8, BLUE_T, "left")
note(579.5, 788, "<i>Inflammatory response (p&lt;10<sup>-26</sup>)</i>", 9.8, RED_T, "left")

# Gene names beneath the strips, one row per set
rows = [(842.3, "#333333", microglia_genes, [88.7, 131, 153.7, 209.3, 232, 266, 289, 328, 354, 384, 408.3, 428, 466.7, 487, 504, 523, 545]),
        (855.7, BLUE_T, angio_genes_1, [92.7, 119.3, 143, 168.3, 193, 218.3, 243.3, 266.7, 287.7, 308, 330, 354, 384.7, 405, 434, 451, 476, 510, 535, 557.7]),
        (865, BLUE_T, angio_genes_2, [89.3, 115.7, 142.3, 164, 197.7, 229.3, 265, 297, 320.7, 345.3, 368.3, 400.7, 431, 453.3, 484.3, 512.7, 534.7, 558]),
        (878.3, RED_T, inflam_genes_1, [92.3, 113.7, 137.3, 153.3, 172.7, 201.7, 224, 241.7, 270.3, 290.7, 328.3, 348.7, 376, 402.7, 436, 460.7, 486, 506.7, 534.3]),
        (887.7, RED_T, inflam_genes_2, [91.7, 115, 144.3, 168.3, 220, 257.7, 297.3, 322.3, 364.3, 409.3, 450.3, 494, 539.3])]
for y, color, genes, xs in rows:
    for g, x in zip(genes, xs):
        note(x, y, "<i>%s</i>" % g, 8.2, color)

# Elbow connectors from the strip captions to the gene rows
for vx, low, color in [(609, 843, "#555555"), (637.7, 860, "#3b96df"), (648, 881.7, "#ff6a6a")]:
    shapes.append(dict(type="path", xref="paper", yref="paper",
                       path="M %f,%f L %f,%f L %f,%f" % (px(vx), py(795), px(vx), py(low), px(578), py(low)),
                       line=dict(color=color, width=1)))
    shapes.append(dict(type="path", xref="paper", yref="paper", fillcolor=color, line=dict(width=0),
                       path="M %f,%f L %f,%f L %f,%f Z" % (px(574), py(low), px(579), py(low - 2), px(579), py(low + 2))))

fig.update_layout(width=W, height=H, margin=dict(l=0, r=0, t=0, b=0), autosize=False,
                  paper_bgcolor="white", plot_bgcolor="white", barmode="overlay", showlegend=False,
                  font=dict(family=FONT), annotations=annotations, shapes=shapes, **layout_axes)
fig.write_html("out.html")
